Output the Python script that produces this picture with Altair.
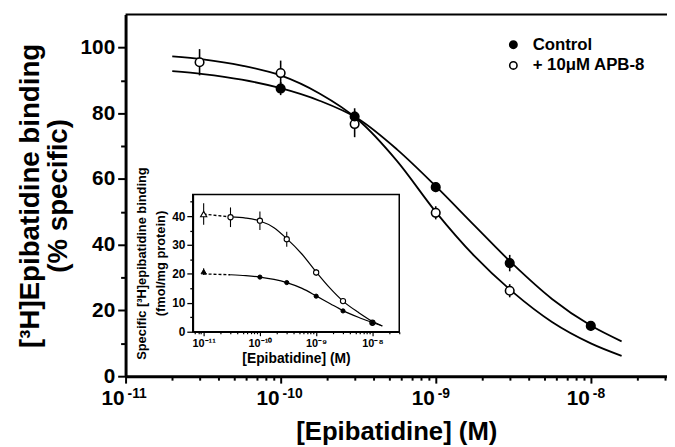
import altair as alt
import pandas as pd

FONT = "Liberation Sans"

# ---------------- main panel data ----------------
series_names = ["Control", "+ 10\u03bcM APB-8"]

main_ctrl_conc = [1e-10, 3e-10, 1e-9, 3e-9, 1e-8]
main_ctrl_val = [87.5, 79.0, 57.5, 34.4, 15.3]
main_ctrl_err = [2.0, 2.5, 1.5, 2.5, 1.5]

main_apb_conc = [3e-11, 1e-10, 3e-10, 1e-9, 3e-9]
main_apb_val = [95.5, 92.2, 76.7, 49.7, 26.0]
main_apb_err = [4.0, 3.8, 4.0, 2.0, 2.0]

main_curve_conc = [2.0e-11, 3.16e-11, 5.62e-11, 1.0e-10, 1.78e-10, 3.16e-10, 5.62e-10,
                   1.0e-9, 1.78e-9, 3.16e-9, 5.62e-9, 1.0e-8, 1.58e-8]
main_curve_ctrl = [92.8, 91.9, 90.2, 87.6, 83.8, 78.3, 69.0, 57.8, 45.8, 34.0, 23.5, 15.4, 10.6]
main_curve_apb = [97.3, 96.4, 94.5, 91.5, 86.0, 78.0, 65.5, 50.0, 36.5, 25.5, 16.5, 10.0, 6.2]

main_x_domain = [1e-11, 3.1e-8]
main_y_domain = [0, 110]
main_x_major = [1e-11, 1e-10, 1e-9, 1e-8]
main_x_base = ["10", "10", "10", "10"]
main_x_sup = ["-11", "-10", "-9", "-8"]
inset_x_labels = ["10\u207b\u00b9\u00b9", "10\u207b\u00b9\u2070", "10\u207b\u2079", "10\u207b\u2078"]
minor_mult = [1, 2, 3, 4, 5, 6, 7, 8, 9]
main_y_ticks = [0, 10, 20, 30, 40, 50, 60, 70, 80, 90, 100]

# ---------------- inset data ----------------
inset_apb_conc = [3e-11, 1e-10, 3e-10, 1e-9, 3e-9, 1e-8]
inset_apb_val = [39.6, 38.4, 32.0, 20.5, 10.6, 3.1]
inset_apb_err = [3.4, 3.2, 2.6, 1.2, 0.8, 0.5]
inset_ctrl_conc = [1e-10, 3e-10, 1e-9, 3e-9, 1e-8]
inset_ctrl_val = [18.9, 17.0, 12.3, 7.2, 3.1]
inset_ctrl_err = [0.5, 0.5, 0.5, 0.5, 0.4]

inset_tri_conc = [1e-11, 1e-11]
inset_tri_val = [40.7, 20.8]
inset_tri_err = [3.7, 1.2]

inset_curve_conc = [3.0e-11, 5.62e-11, 1.0e-10, 1.78e-10, 3.0e-10, 5.62e-10, 1.0e-9,
                    1.78e-9, 3.0e-9, 5.62e-9, 1.0e-8, 1.5e-8]
inset_curve_apb = [39.7, 39.3, 38.3, 36.0, 32.2, 26.8, 20.7, 15.0, 10.6, 6.7, 3.6, 2.0]
inset_curve_ctrl = [19.7, 19.4, 18.9, 18.1, 17.0, 15.0, 12.4, 9.7, 7.3, 5.0, 3.2, 2.0]

inset_dash_conc = [1e-11, 3e-11]
inset_dash_apb = [40.7, 39.7]
inset_dash_ctrl = [20.0, 19.7]

inset_x_domain = [6.4e-12, 3.0e-8]
inset_y_domain = [0, 47.5]
inset_y_ticks = [0, 5, 10, 15, 20, 25, 30, 35, 40, 45]

# ---------------- layout ----------------
W, H = 548, 366
INSET_X_RANGE = [68, 277]
INSET_Y_RANGE = [321, 182]


def label_expr(values, labels):
    parts = [f"abs(datum.value/{v:g}-1)<0.01 ? '{l}'" for v, l in zip(values, labels)]
    return " : ".join(parts) + " : ''"


def ticks_for(decades, lo, hi):
    out = []
    for d in decades + [decades[-1] * 10]:
        for m in minor_mult:
            v = d / 10 * m
            if lo * 0.999 <= v <= hi * 1.001:
                out.append(v)
    return sorted(set(out))


major_test = "abs(log(datum.value)/LN10 - round(log(datum.value)/LN10)) < 0.001"

# ---------------- main scales / axes ----------------
x_main_scale = alt.Scale(type="log", domain=main_x_domain, nice=False)
y_main_scale = alt.Scale(domain=main_y_domain, nice=False, zero=False)

main_x_axis = alt.Axis(
    orient="bottom",
    values=ticks_for(main_x_major, *main_x_domain),
    labels=False,
    tickSize={"condition": {"test": major_test, "value": 7}, "value": 4},
    tickWidth=2, tickColor="black", domainWidth=3, domainColor="black",
    title="[Epibatidine] (M)", titleFont=FONT, titleFontSize=26, titleFontWeight="bold",
    titleColor="black", titlePadding=35, grid=False, zindex=1,
)
main_y_axis = alt.Axis(
    orient="left",
    values=main_y_ticks,
    labelExpr="datum.value % 20 == 0 ? datum.label : ''",
    tickSize={"condition": {"test": "datum.value % 20 == 0", "value": 8}, "value": 5},
    tickWidth=2, tickColor="black", domainWidth=3, domainColor="black",
    labelFont=FONT, labelFontSize=21, labelFontWeight="bold", labelColor="black",
    labelPadding=3, labelOverlap=False,
    title=["[\u00b3H]Epibatidine binding", "(% specific)"],
    titleFont=FONT, titleFontSize=28, titleFontWeight="bold", titleColor="black",
    titlePadding=8, titleLineHeight=28, grid=False, zindex=1,
)

X_main = alt.X("conc:Q", scale=x_main_scale, axis=main_x_axis)
Y_main = alt.Y("value:Q", scale=y_main_scale, axis=main_y_axis)

curve_df = pd.concat([
    pd.DataFrame({"conc": main_curve_conc, "value": main_curve_ctrl, "series": series_names[0]}),
    pd.DataFrame({"conc": main_curve_conc, "value": main_curve_apb, "series": series_names[1]}),
])
pts_df = pd.concat([
    pd.DataFrame({"conc": main_apb_conc, "value": main_apb_val, "err": main_apb_err,
                  "series": series_names[1]}),
    pd.DataFrame({"conc": main_ctrl_conc, "value": main_ctrl_val, "err": main_ctrl_err,
                  "series": series_names[0]}),
])
pts_df["lo"] = pts_df["value"] - pts_df["err"]
pts_df["hi"] = pts_df["value"] + pts_df["err"]

main_curves = alt.Chart(curve_df).mark_line(color="black", strokeWidth=1.8, interpolate="monotone").encode(
    x=X_main, y=Y_main, detail="series:N")

main_err = alt.Chart(pts_df).mark_rule(color="black", strokeWidth=1.6).encode(
    x=X_main, y=alt.Y("lo:Q", scale=y_main_scale, axis=main_y_axis), y2="hi:Q")

main_pts = alt.Chart(pts_df).mark_point(shape="circle", filled=True, size=75, stroke="black",
                                        strokeWidth=1.6, opacity=1).encode(
    x=X_main, y=Y_main,
    fill=alt.Fill("series:N", scale=alt.Scale(domain=series_names, range=["black", "white"]),
                  legend=alt.Legend(title=None, orient="none", legendX=384, legendY=22,
                                    labelFont=FONT, labelFontSize=17, labelFontWeight="bold",
                                    labelColor="black", symbolType="circle", symbolSize=55,
                                    symbolStrokeColor="black", symbolStrokeWidth=1.6,
                                    rowPadding=3, labelOffset=11, padding=0)),
)

top_border = alt.Chart(pd.DataFrame({"v": [0]})).mark_rule(color="black", strokeWidth=2).encode(
    y=alt.YDatum(main_y_domain[1], scale=y_main_scale, axis=main_y_axis))

xlab_df = pd.DataFrame({"conc": main_x_major, "base": main_x_base, "sup": main_x_sup,
                        "yb": [main_y_domain[0]] * len(main_x_major)})
xlab_base = alt.Chart(xlab_df).mark_text(font=FONT, fontSize=21, fontWeight="bold", color="black",
                                         align="right", baseline="alphabetic", dx=-1, dy=29).encode(
    x=X_main, y=alt.Y("yb:Q", scale=y_main_scale, axis=main_y_axis), text="base:N")
xlab_sup = alt.Chart(xlab_df).mark_text(font=FONT, fontSize=14, fontWeight="bold", color="black",
                                        align="left", baseline="alphabetic", dx=2, dy=22).encode(
    x=X_main, y=alt.Y("yb:Q", scale=y_main_scale, axis=main_y_axis), text="sup:N")

main_layer = alt.layer(top_border, main_curves, main_err, main_pts, xlab_base, xlab_sup)

# ---------------- inset scales / axes ----------------
x_in_scale = alt.Scale(type="log", domain=inset_x_domain, range=INSET_X_RANGE, nice=False)
y_in_scale = alt.Scale(domain=inset_y_domain, range=INSET_Y_RANGE, nice=False, zero=False)

inset_x_axis = alt.Axis(
    orient="bottom", offset=-(H - INSET_Y_RANGE[0]),
    values=ticks_for(main_x_major, *inset_x_domain),
    labelExpr=label_expr(main_x_major, inset_x_labels),
    tickSize={"condition": {"test": major_test, "value": 4}, "value": 2},
    tickWidth=1.2, tickColor="black", domainWidth=1.8, domainColor="black",
    labelFont=FONT, labelFontSize=11, labelFontWeight="bold", labelColor="black",
    labelPadding=2, labelFlush=False, labelOverlap=False, labelBound=False,
    title="[Epibatidine] (M)", titleFont=FONT, titleFontSize=14, titleFontWeight="bold",
    titleColor="black", titlePadding=3, grid=False, zindex=2,
)
inset_y_axis = alt.Axis(
    orient="left", offset=-INSET_X_RANGE[0],
    values=inset_y_ticks,
    labelExpr="datum.value % 10 == 0 ? datum.label : ''",
    tickSize={"condition": {"test": "datum.value % 10 == 0", "value": 6}, "value": 3},
    tickWidth=1.3, tickColor="black", domainWidth=1.8, domainColor="black",
    labelFont=FONT, labelFontSize=12, labelFontWeight="bold", labelColor="black",
    labelPadding=2, labelOverlap=False,
    title=["Specific [\u00b3H]epibatidine binding", "(fmol/mg protein)"],
    titleFont=FONT, titleFontSize=13, titleFontWeight="bold", titleColor="black",
    titlePadding=4, titleLineHeight=19, grid=False, zindex=2,
)
X_in = alt.X("conc:Q", scale=x_in_scale, axis=inset_x_axis)
Y_in = alt.Y("value:Q", scale=y_in_scale, axis=inset_y_axis)

frame_df = pd.DataFrame({"x0": [inset_x_domain[0]], "x1": [inset_x_domain[1]],
                         "y0": [inset_y_domain[0]], "y1": [inset_y_domain[1]]})
inset_frame = alt.Chart(frame_df).mark_rect(fill="white", stroke="black", strokeWidth=1.5).encode(
    x=alt.X("x0:Q", scale=x_in_scale, axis=inset_x_axis), x2="x1:Q",
    y=alt.Y("y0:Q", scale=y_in_scale, axis=inset_y_axis), y2="y1:Q")

icurve_df = pd.concat([
    pd.DataFrame({"conc": inset_curve_conc, "value": inset_curve_apb, "series": "a"}),
    pd.DataFrame({"conc": inset_curve_conc, "value": inset_curve_ctrl, "series": "c"}),
])
idash_df = pd.concat([
    pd.DataFrame({"conc": inset_dash_conc, "value": inset_dash_apb, "series": "a"}),
    pd.DataFrame({"conc": inset_dash_conc, "value": inset_dash_ctrl, "series": "c"}),
])
inset_curves = alt.Chart(icurve_df).mark_line(color="black", strokeWidth=1.2, interpolate="monotone").encode(
    x=X_in, y=Y_in, detail="series:N")
inset_dash = alt.Chart(idash_df).mark_line(color="black", strokeWidth=1.4, strokeDash=[3, 2]).encode(
    x=X_in, y=Y_in, detail="series:N")

iapb = pd.DataFrame({"conc": inset_apb_conc, "value": inset_apb_val, "err": inset_apb_err})
ictrl = pd.DataFrame({"conc": inset_ctrl_conc, "value": inset_ctrl_val, "err": inset_ctrl_err})
itri = pd.DataFrame({"conc": inset_tri_conc, "value": inset_tri_val, "err": inset_tri_err,
                     "kind": ["open", "filled"]})
ierr = pd.concat([iapb, ictrl, itri[["conc", "value", "err"]]])
ierr["lo"] = ierr["value"] - ierr["err"]
ierr["hi"] = ierr["value"] + ierr["err"]

inset_err = alt.Chart(ierr).mark_rule(color="black", strokeWidth=1.1).encode(
    x=X_in, y=alt.Y("lo:Q", scale=y_in_scale, axis=inset_y_axis), y2="hi:Q")
inset_open = alt.Chart(iapb).mark_point(shape="circle", filled=True, fill="white", stroke="black",
                                        strokeWidth=1.1, size=28, opacity=1).encode(x=X_in, y=Y_in)
inset_fill = alt.Chart(ictrl).mark_point(shape="circle", filled=True, fill="black", stroke="black",
                                         strokeWidth=1, size=18, opacity=1).encode(x=X_in, y=Y_in)
inset_tri_open = alt.Chart(itri[itri["kind"] == "open"]).mark_point(
    shape="triangle-up", filled=True, fill="white", stroke="black", strokeWidth=1.1, size=40,
    opacity=1).encode(x=X_in, y=Y_in)
inset_tri_fill = alt.Chart(itri[itri["kind"] == "filled"]).mark_point(
    shape="triangle-up", filled=True, fill="black", stroke="black", strokeWidth=1, size=28,
    opacity=1).encode(x=X_in, y=Y_in)

inset_layer = alt.layer(inset_frame, inset_dash, inset_curves, inset_err, inset_open, inset_fill,
                        inset_tri_open, inset_tri_fill)

chart = alt.layer(main_layer, inset_layer).resolve_scale(
    x="independent", y="independent"
).properties(
    width=W, height=H,
    padding={"left": 119, "top": 4, "right": 0, "bottom": 69},
    autosize=alt.AutoSizeParams(type="none"),
    background="white",
).configure_view(stroke=None)

chart.save("out.html", embed_options={"renderer": "svg", "actions": False})
